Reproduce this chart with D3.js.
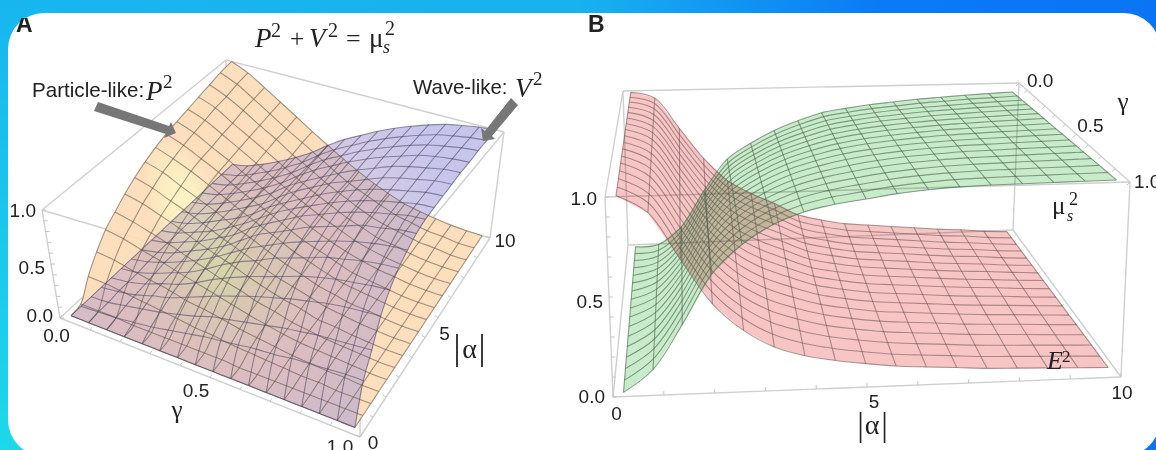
<!DOCTYPE html>
<html>

<head>
    <meta charset="utf-8">
    <style>
        html, body {
            margin: 0;
            padding: 0;
            background: #fff;
            overflow: hidden;
        }

        svg {
            display: block;
        }

        .sans {
            font-family: "Liberation Sans", Arial, sans-serif;
            fill: #222;
        }

        .serif {
            font-family: "Liberation Serif", "Times New Roman", serif;
            fill: #222;
        }
    </style>
</head>

<body>
    <svg width="1156" height="450"></svg>
</body>

<script src="https://d3js.org/d3.v7.min.js"></script>

<script>

    // surface nodes, one per mesh line. rows go with |alpha|, columns with gamma
    const alphaNodesA = [0.3, 0.906, 1.51, 2.12, 2.73, 3.33, 3.94, 4.54, 5.15, 5.76, 6.36, 6.97, 7.58, 8.18, 8.79, 9.39, 10]
    const gammaNodesA = [0.02, 0.079, 0.139, 0.198, 0.258, 0.317, 0.376, 0.436, 0.495, 0.554, 0.614, 0.673, 0.733, 0.792, 0.851, 0.911, 0.97]
    const alphaNodesB = [0.2, 0.8, 1.4, 2, 2.6, 3.2, 3.8, 4.4, 5, 5.6, 6.2, 6.8, 7.4, 8, 8.6, 9.2, 9.8]
    const gammaNodesB = [0.02, 0.08, 0.14, 0.2, 0.26, 0.32, 0.38, 0.44, 0.5, 0.56, 0.62, 0.68, 0.74, 0.8, 0.86, 0.92, 0.98]

    // values
    const particleP2 = [
        [0, 0, 0, 0, 0, 0, 0, 0, 0, 0, 0, 0, 0, 0, 0, 0, 0],
        [.02, .02, .02, .01, .01, .01, .01, .01, .01, 0, 0, 0, 0, 0, 0, 0, 0],
        [.19, .18, .16, .14, .12, .10, .08, .07, .05, .04, .03, .02, .01, .01, 0, 0, 0],
        [.33, .31, .27, .24, .21, .17, .15, .12, .09, .07, .05, .03, .02, .01, .01, 0, 0],
        [.45, .42, .37, .33, .28, .24, .20, .16, .12, .09, .06, .04, .03, .02, .01, 0, 0],
        [.53, .49, .44, .39, .33, .28, .23, .19, .14, .11, .07, .05, .03, .02, .01, 0, 0],
        [.61, .57, .51, .45, .38, .32, .27, .21, .16, .12, .09, .05, .04, .02, .01, 0, 0],
        [.68, .63, .56, .50, .43, .36, .30, .24, .18, .14, .10, .06, .04, .02, .01, 0, 0],
        [.74, .69, .61, .54, .47, .39, .33, .26, .20, .15, .10, .07, .04, .03, .01, 0, 0],
        [.79, .73, .66, .58, .50, .42, .35, .28, .21, .16, .11, .07, .05, .03, .01, 0, 0],
        [.83, .77, .69, .61, .52, .44, .37, .29, .22, .17, .12, .07, .05, .03, .01, 0, 0],
        [.86, .80, .71, .63, .54, .46, .38, .30, .23, .17, .12, .08, .05, .03, .01, 0, 0],
        [.89, .83, .74, .65, .56, .47, .39, .31, .24, .18, .12, .08, .05, .03, .01, 0, 0],
        [.92, .86, .76, .67, .58, .49, .40, .32, .25, .18, .13, .08, .06, .03, .01, 0, 0],
        [.95, .88, .79, .69, .60, .50, .42, .33, .26, .19, .13, .09, .06, .03, .02, 0, 0],
        [.98, .91, .81, .71, .61, .52, .43, .34, .26, .20, .14, .09, .06, .03, .02, 0, 0],
        [1, .93, .83, .73, .63, .53, .44, .35, .27, .20, .14, .09, .06, .035, .016, .005, 0]
    ]

    const waveV2 = [
        [0, 0, 0, 0, 0, 0, 0, 0, 0, 0, 0, 0, 0, 0, 0, 0, 0],
        [0, .01, .02, .04, .06, .09, .12, .15, .17, .19, .21, .22, .24, .25, .26, .27, .27],
        [0, .01, .04, .07, .10, .14, .18, .23, .26, .29, .32, .35, .37, .39, .40, .41, .42],
        [0, .02, .05, .10, .14, .20, .26, .32, .37, .42, .46, .50, .53, .56, .58, .59, .60],
        [0, .02, .06, .12, .17, .24, .32, .39, .45, .50, .55, .60, .64, .67, .69, .71, .72],
        [0, .02, .07, .13, .19, .27, .36, .44, .50, .57, .62, .67, .72, .75, .78, .80, .81],
        [0, .03, .08, .14, .21, .29, .38, .47, .54, .61, .67, .72, .77, .81, .84, .86, .87],
        [0, .03, .08, .15, .22, .30, .40, .50, .57, .64, .71, .76, .81, .86, .88, .91, .92],
        [0, .03, .09, .15, .23, .31, .42, .51, .59, .67, .73, .79, .84, .88, .91, .94, .95],
        [0, .03, .09, .15, .23, .32, .42, .52, .60, .67, .74, .80, .85, .89, .92, .95, .96],
        [0, .03, .09, .16, .23, .32, .43, .52, .60, .68, .75, .81, .86, .90, .93, .96, .97],
        [0, .03, .09, .16, .24, .32, .43, .53, .61, .69, .75, .81, .87, .91, .94, .97, .98],
        [0, .03, .09, .16, .24, .33, .44, .53, .61, .69, .76, .82, .88, .92, .95, .98, .99],
        [0, .03, .09, .16, .24, .33, .44, .54, .62, .70, .77, .83, .88, .93, .96, .98, .99],
        [0, .03, .09, .16, .24, .33, .44, .54, .62, .70, .77, .83, .885, .93, .96, .985, 1],
        [0, .03, .09, .16, .24, .33, .44, .54, .62, .70, .77, .83, .885, .93, .96, .985, 1],
        [0, .03, .09, .16, .24, .33, .44, .54, .62, .70, .77, .83, .885, .93, .96, .985, 1]
    ]

    const entropyE2 = [
        [1, .999, .999, .998, .998, .997, .996, .996, .995, .994, .994, .993, .993, .992, .991, .991, .99],
        [.96, .956, .953, .949, .945, .941, .938, .934, .93, .926, .923, .919, .915, .911, .908, .904, .90],
        [.76, .754, .748, .741, .735, .729, .723, .716, .71, .704, .698, .691, .685, .679, .673, .666, .66],
        [.56, .552, .544, .536, .528, .519, .511, .503, .495, .487, .479, .471, .463, .454, .446, .438, .43],
        [.41, .403, .395, .388, .38, .373, .365, .358, .35, .343, .335, .328, .32, .313, .305, .298, .29],
        [.32, .313, .305, .298, .29, .283, .275, .268, .26, .253, .245, .238, .23, .223, .215, .208, .20],
        [.25, .244, .238, .231, .225, .219, .213, .206, .20, .194, .188, .181, .175, .169, .163, .156, .15],
        [.17, .167, .164, .161, .158, .154, .151, .148, .145, .142, .139, .136, .133, .129, .126, .123, .12],
        [.13, .128, .126, .124, .122, .12, .118, .116, .114, .112, .11, .108, .106, .104, .102, .1, .098],
        [.1, .099, .098, .096, .095, .094, .093, .091, .09, .089, .088, .086, .085, .084, .083, .081, .08],
        [.085, .084, .083, .082, .081, .08, .079, .078, .077, .076, .075, .074, .073, .072, .071, .07, .069],
        [.07, .069, .069, .068, .068, .067, .066, .066, .065, .064, .064, .063, .063, .062, .061, .061, .06],
        [.055, .055, .054, .054, .054, .053, .053, .053, .053, .052, .052, .052, .051, .051, .051, .05, .05],
        [.04, .04, .041, .041, .041, .042, .042, .042, .043, .043, .043, .043, .044, .044, .044, .045, .045],
        [.03, .031, .031, .032, .033, .033, .034, .034, .035, .036, .036, .037, .038, .038, .039, .039, .04],
        [.015, .016, .018, .019, .02, .021, .023, .024, .025, .026, .028, .029, .03, .031, .033, .034, .035],
        [.005, .007, .008, .01, .011, .013, .014, .016, .018, .019, .021, .022, .024, .025, .027, .028, .03]
    ]

    const coherenceMu2 = [
        [0, 0, 0, 0, 0, 0, 0, 0, 0, 0, 0, 0, 0, 0, 0, 0, 0],
        [.01, .016, .023, .029, .035, .041, .048, .054, .06, .066, .073, .079, .085, .091, .098, .104, .11],
        [.12, .133, .146, .159, .173, .186, .199, .212, .225, .238, .251, .264, .278, .291, .304, .317, .33],
        [.35, .364, .379, .393, .408, .422, .436, .451, .465, .479, .494, .508, .523, .537, .551, .566, .58],
        [.55, .561, .572, .583, .594, .605, .616, .627, .638, .648, .659, .67, .681, .692, .703, .714, .725],
        [.65, .661, .671, .682, .693, .703, .714, .724, .735, .746, .756, .767, .778, .788, .799, .809, .82],
        [.73, .739, .749, .758, .768, .777, .786, .796, .805, .814, .824, .833, .843, .852, .861, .871, .88],
        [.79, .798, .806, .813, .821, .829, .837, .845, .853, .86, .868, .876, .884, .892, .899, .907, .915],
        [.84, .846, .852, .858, .864, .87, .876, .882, .889, .895, .901, .907, .913, .919, .925, .931, .937],
        [.865, .871, .877, .883, .889, .895, .901, .907, .913, .918, .924, .93, .936, .942, .948, .954, .96],
        [.885, .891, .896, .902, .908, .913, .919, .924, .93, .936, .941, .947, .953, .958, .964, .969, .975],
        [.9, .905, .911, .916, .921, .927, .932, .937, .943, .948, .953, .958, .964, .969, .974, .98, .985],
        [.915, .92, .924, .929, .934, .938, .943, .948, .953, .957, .962, .967, .971, .976, .981, .985, .99],
        [.925, .929, .933, .938, .942, .946, .95, .954, .959, .963, .967, .971, .975, .979, .984, .988, .992],
        [.935, .939, .942, .946, .95, .953, .957, .961, .965, .968, .972, .976, .979, .983, .987, .99, .994],
        [.943, .946, .95, .953, .956, .96, .963, .966, .969, .973, .976, .979, .983, .986, .989, .993, .996],
        [.95, .953, .956, .959, .962, .965, .968, .971, .974, .977, .98, .983, .986, .989, .992, .995, .998]
    ]

    // tick labels
    const zTickLabels = ["0.0", "0.5", "1.0"]
    const gammaTickLabels = ["0.0", "0.5", "1.0"]
    const alphaTickLabels = ["0", "5", "10"]

    let svg = d3.select("svg")

    let defs = svg.append("defs")

    // the photo is a little soft
    defs.append("filter").attr("id", "soft")
        .attr("filterUnits", "userSpaceOnUse")
        .attr("x", 0).attr("y", 0).attr("width", 1156).attr("height", 450)
        .append("feGaussianBlur").attr("stdDeviation", 0.45)

    defs.append("clipPath").attr("id", "letter-a")
        .append("rect").attr("x", 0).attr("y", 18).attr("width", 60).attr("height", 30)

    // frame colours
    let topGrad = defs.append("linearGradient").attr("id", "frame-top")
    topGrad.append("stop").attr("offset", "0").attr("stop-color", "#18b6ef")
    topGrad.append("stop").attr("offset", "0.5").attr("stop-color", "#18b2ef")
    topGrad.append("stop").attr("offset", "0.76").attr("stop-color", "#0a7bf5")
    topGrad.append("stop").attr("offset", "1").attr("stop-color", "#0a74f5")

    let leftGrad = defs.append("linearGradient").attr("id", "frame-left")
        .attr("x1", 0).attr("x2", 0).attr("y1", 0).attr("y2", 1)
    leftGrad.append("stop").attr("offset", "0").attr("stop-color", "#18b6ef")
    leftGrad.append("stop").attr("offset", "1").attr("stop-color", "#1cd8e8")

    // yellowish lit patch on the P^2 surface
    let lit = defs.append("radialGradient").attr("id", "lit")
        .attr("gradientUnits", "userSpaceOnUse")
        .attr("cx", 0).attr("cy", 0).attr("r", 1)
        .attr("gradientTransform", "translate(195,225) rotate(65) scale(95,38)")
    lit.append("stop").attr("offset", "0").attr("stop-color", "#fdf6bf")
    lit.append("stop").attr("offset", "0.55").attr("stop-color", "#fdeebd")
    lit.append("stop").attr("offset", "1").attr("stop-color", "#fddcb8")

    // V^2 goes from blue at the back to pink at the front, with the same lit patch
    let tint = defs.append("radialGradient").attr("id", "tint")
        .attr("gradientUnits", "userSpaceOnUse")
        .attr("cx", 225).attr("cy", 270).attr("r", 240)
    tint.append("stop").attr("offset", "0").attr("stop-color", "#bcc498")
    tint.append("stop").attr("offset", "0.18").attr("stop-color", "#c0b4b0")
    tint.append("stop").attr("offset", "0.45").attr("stop-color", "#c4a4c4")
    tint.append("stop").attr("offset", "0.75").attr("stop-color", "#b0a2d2")
    tint.append("stop").attr("offset", "1").attr("stop-color", "#a09ce0")

    svg.append("rect").attr("width", 1156).attr("height", 450).attr("fill", "url(#frame-top)")
    svg.append("rect").attr("width", 60).attr("height", 450).attr("fill", "url(#frame-left)")
    svg.append("rect")
        .attr("x", 8).attr("y", 13)
        .attr("width", 1152).attr("height", 443)
        .attr("rx", 36)
        .attr("fill", "white")

    let alphaScale = d3.scaleLinear().domain([0, 10]).range([0, 1])
    let gammaScale = d3.scaleLinear().domain([0, 1]).range([0, 1])
    let zScale = d3.scaleLinear().domain([0, 1]).range([0, 1])

    // box corners are named a(lpha) g(amma) z
    function projector(c, k) {
        let depth = v => v / (k - (k - 1) * v)
        return function (a, g, z) {
            let u = alphaScale(a), v = depth(gammaScale(g)), w = zScale(z)
            let bottom = d3.interpolate(
                d3.interpolate(c.a0g0z0, c.a1g0z0)(u),
                d3.interpolate(c.a0g1z0, c.a1g1z0)(u))(v)
            let top = d3.interpolate(
                d3.interpolate(c.a0g0z1, c.a1g0z1)(u),
                d3.interpolate(c.a0g1z1, c.a1g1z1)(u))(v)
            return d3.interpolate(bottom, top)(w)
        }
    }

    let projectA = projector({
        a0g0z0: [60, 318], a1g0z0: [227, 163], a0g1z0: [360, 437], a1g1z0: [490, 238],
        a0g0z1: [42, 210], a1g0z1: [226, 60], a0g1z1: [361, 305], a1g1z1: [504, 132]
    }, 1)

    let projectB = projector({
        a0g0z0: [628, 245], a1g0z0: [1013, 230], a0g1z0: [613, 397], a1g1z0: [1121, 377],
        a0g0z1: [623, 91], a1g0z1: [1019, 83], a0g1z1: [605, 197], a1g1z1: [1130, 182]
    }, 1.4)

    let line = d3.line()

    function boxEdges(g, project) {
        let corners = [[0, 0], [10, 0], [10, 1], [0, 1]]
        let edges = []
        corners.forEach((c, i) => {
            let n = corners[(i + 1) % 4]
            edges.push([project(c[0], c[1], 0), project(n[0], n[1], 0)])
            edges.push([project(c[0], c[1], 1), project(n[0], n[1], 1)])
            edges.push([project(c[0], c[1], 0), project(c[0], c[1], 1)])
        })
        g.append("g").selectAll("path")
            .data(edges)
            .join("path")
            .attr("d", line)
            .attr("fill", "none")
            .attr("stroke", "#cfcfcf")
            .attr("stroke-width", 1.4)
    }

    function ticks(g, project, list) {
        g.append("g").selectAll("path")
            .data(list)
            .join("path")
            .attr("d", d => {
                let p = project(...d.at)
                return line([p, [p[0] + d.dx, p[1] + d.dy]])
            })
            .attr("stroke", "#c4c4c4")
            .attr("stroke-width", 1)
    }

    function surfaceFill(g, project, alphas, gammas, values, style) {
        let cells = []
        for (let i = 0; i < alphas.length - 1; i++) {
            for (let j = 0; j < gammas.length - 1; j++) {
                cells.push([
                    project(alphas[i], gammas[j], values[i][j]),
                    project(alphas[i + 1], gammas[j], values[i + 1][j]),
                    project(alphas[i + 1], gammas[j + 1], values[i + 1][j + 1]),
                    project(alphas[i], gammas[j + 1], values[i][j + 1])
                ])
            }
        }
        g.append("g")
            .style("opacity", style.opacity)
            .style("mix-blend-mode", style.blend || "normal")
            .selectAll("path")
            .data(cells)
            .join("path")
            .attr("d", d => line(d) + "Z")
            .attr("fill", style.fill)
            .attr("stroke", style.fill)
            .attr("stroke-width", 0.5)
    }

    // one line for each node in both directions
    function surfaceMesh(g, project, alphas, gammas, values, style) {
        let mesh = []
        alphas.forEach((a, i) => mesh.push(gammas.map((c, j) => project(a, c, values[i][j]))))
        gammas.forEach((c, j) => mesh.push(alphas.map((a, i) => project(a, c, values[i][j]))))
        g.append("g")
            .selectAll("path")
            .data(mesh)
            .join("path")
            .attr("d", d3.line().curve(d3.curveCatmullRom))
            .attr("fill", "none")
            .attr("stroke", style.mesh)
            .attr("stroke-width", style.meshWidth)
    }

    function label(g, cls, x, y, txt, size, opts) {
        opts = opts || {}
        return g.append("text")
            .attr("class", cls)
            .attr("x", x)
            .attr("y", y)
            .attr("text-anchor", opts.anchor || "start")
            .style("font-size", size + "px")
            .style("font-style", opts.italic ? "italic" : "normal")
            .style("font-weight", opts.bold ? "bold" : "normal")
            .text(txt)
    }

    function arrow(g, points) {
        g.append("polygon")
            .attr("points", points.join(" "))
            .attr("fill", "#777")
    }

    let chart = svg.append("g").attr("filter", "url(#soft)")

    /* ---------- panel A ---------- */

    let a = chart.append("g").style("isolation", "isolate")
    boxEdges(a, projectA)

    ticks(a, projectA, d3.range(11).map(i => ({ at: [0, i / 10, 0], dx: 2, dy: -3 })))
    ticks(a, projectA, d3.range(11).map(i => ({ at: [i, 1, 0], dx: -3, dy: -2 })))
    ticks(a, projectA, d3.range(11).map(i => ({ at: [0, 0, i / 10], dx: 4, dy: 0 })))

    let styleP = { fill: "url(#lit)", opacity: 0.92, mesh: "rgba(95,85,70,0.58)", meshWidth: 1.1 }
    let styleV = { fill: "url(#tint)", opacity: 0.58, mesh: "rgba(70,65,95,0.55)", meshWidth: 1.1 }
    surfaceFill(a, projectA, alphaNodesA, gammaNodesA, particleP2, styleP)
    surfaceFill(a, projectA, alphaNodesA, gammaNodesA, waveV2, styleV)
    surfaceMesh(a, projectA, alphaNodesA, gammaNodesA, particleP2, styleP)
    surfaceMesh(a, projectA, alphaNodesA, gammaNodesA, waveV2, styleV)

    label(chart, "sans", 16, 32, "A", 23, { bold: true }).attr("clip-path", "url(#letter-a)")

    label(chart, "serif", 255, 47, "P", 27, { italic: true })
    label(chart, "serif", 271, 37, "2", 20)
    label(chart, "serif", 290, 47, "+", 25)
    label(chart, "serif", 309, 47, "V", 27, { italic: true })
    label(chart, "serif", 328, 37, "2", 20)
    label(chart, "serif", 346, 47, "=", 26)
    label(chart, "serif", 369, 47, "μ", 27)
    label(chart, "serif", 383, 53, "s", 18, { italic: true })
    label(chart, "serif", 385, 35, "2", 20)

    label(chart, "sans", 32, 97, "Particle-like:", 20.6)
    label(chart, "serif", 146, 100, "P", 27, { italic: true })
    label(chart, "serif", 163, 88, "2", 19)

    label(chart, "sans", 413, 94, "Wave-like:", 20.4)
    label(chart, "serif", 515, 97, "V", 27, { italic: true })
    label(chart, "serif", 533, 85, "2", 19)

    arrow(chart, [[98, 102], [94, 111], [166, 134], [164, 138], [176, 133], [171, 122], [169, 126]])
    arrow(chart, [[511, 98], [518, 105], [492, 136], [495, 139], [483, 141], [481, 128], [485, 131]])

    zTickLabels.forEach((t, i) => {
        let p = projectA(0, 0, [0, .5, 1][i])
        let off = [[-7, 4], [-6, 10], [-6, 7]][i]
        label(chart, "sans", p[0] + off[0], p[1] + off[1], t, 19, { anchor: "end" })
    })
    gammaTickLabels.forEach((t, i) => {
        let p = projectA(0, [0, .5, 1][i], 0)
        let off = [[-3.5, 24], [-14, 19.5], [-20, 16]][i]
        label(chart, "sans", p[0] + off[0], p[1] + off[1], t, 19, { anchor: "middle" })
    })
    alphaTickLabels.forEach((t, i) => {
        let p = projectA([0, 5, 10][i], 1, 0)
        let off = [[13, 12], [19.5, 2.5], [15, 9]][i]
        label(chart, "sans", p[0] + off[0], p[1] + off[1], t, 19, { anchor: "middle" })
    })
    label(chart, "serif", 177, 418, "γ", 25, { anchor: "middle" })
    label(chart, "serif", 457, 359, "|", 35, { anchor: "middle" })
    label(chart, "serif", 469.5, 358, "α", 28, { anchor: "middle" })
    label(chart, "serif", 482, 359, "|", 35, { anchor: "middle" })

    /* ---------- panel B ---------- */

    let b = chart.append("g").style("isolation", "isolate")
    boxEdges(b, projectB)

    ticks(b, projectB, d3.range(11).map(i => ({ at: [i, 1, 0], dx: 0, dy: -4 })))
    ticks(b, projectB, d3.range(11).map(i => ({ at: [0, 1, i / 10], dx: 4, dy: 0 })))
    ticks(b, projectB, d3.range(11).map(i => ({ at: [10, i / 10, 1], dx: -3, dy: 3 })))

    let styleE = { fill: "#f8c5c5", opacity: 1, blend: "multiply", mesh: "rgba(105,80,80,0.55)", meshWidth: 1.1 }
    let styleM = { fill: "#c8ebca", opacity: 1, blend: "multiply", mesh: "rgba(70,100,75,0.6)", meshWidth: 1.1 }
    surfaceFill(b, projectB, alphaNodesB, gammaNodesB, entropyE2, styleE)
    surfaceFill(b, projectB, alphaNodesB, gammaNodesB, coherenceMu2, styleM)
    surfaceMesh(b, projectB, alphaNodesB, gammaNodesB, entropyE2, styleE)
    surfaceMesh(b, projectB, alphaNodesB, gammaNodesB, coherenceMu2, styleM)

    label(chart, "sans", 588, 32, "B", 23, { bold: true })

    zTickLabels.forEach((t, i) => {
        let p = projectB(0, 1, [0, .5, 1][i])
        let off = [[-8, 6], [-6, 11], [-8, 8]][i]
        label(chart, "sans", p[0] + off[0], p[1] + off[1], t, 19, { anchor: "end" })
    })
    alphaTickLabels.forEach((t, i) => {
        let p = projectB([0, 5, 10][i], 1, 0)
        let off = [[3.5, 23], [7, 21], [1, 22]][i]
        label(chart, "sans", p[0] + off[0], p[1] + off[1], t, 19, { anchor: "middle" })
    })
    gammaTickLabels.forEach((t, i) => {
        let p = projectB(10, [0, .5, 1][i], 1)
        let off = [[8, 4], [12, 8], [4, 6]][i]
        label(chart, "sans", p[0] + off[0], p[1] + off[1], t, 19)
    })
    label(chart, "serif", 1123, 110, "γ", 25, { anchor: "middle" })
    label(chart, "serif", 860.5, 436, "|", 33, { anchor: "middle" })
    label(chart, "serif", 872, 434, "α", 28, { anchor: "middle" })
    label(chart, "serif", 884.5, 436, "|", 33, { anchor: "middle" })

    label(chart, "serif", 1052, 214, "μ", 25)
    label(chart, "serif", 1067, 221, "s", 16, { italic: true })
    label(chart, "serif", 1069, 205, "2", 18)

    label(chart, "serif", 1047, 369, "E", 26, { italic: true })
    label(chart, "serif", 1062, 362, "2", 17)

</script>

</html>
